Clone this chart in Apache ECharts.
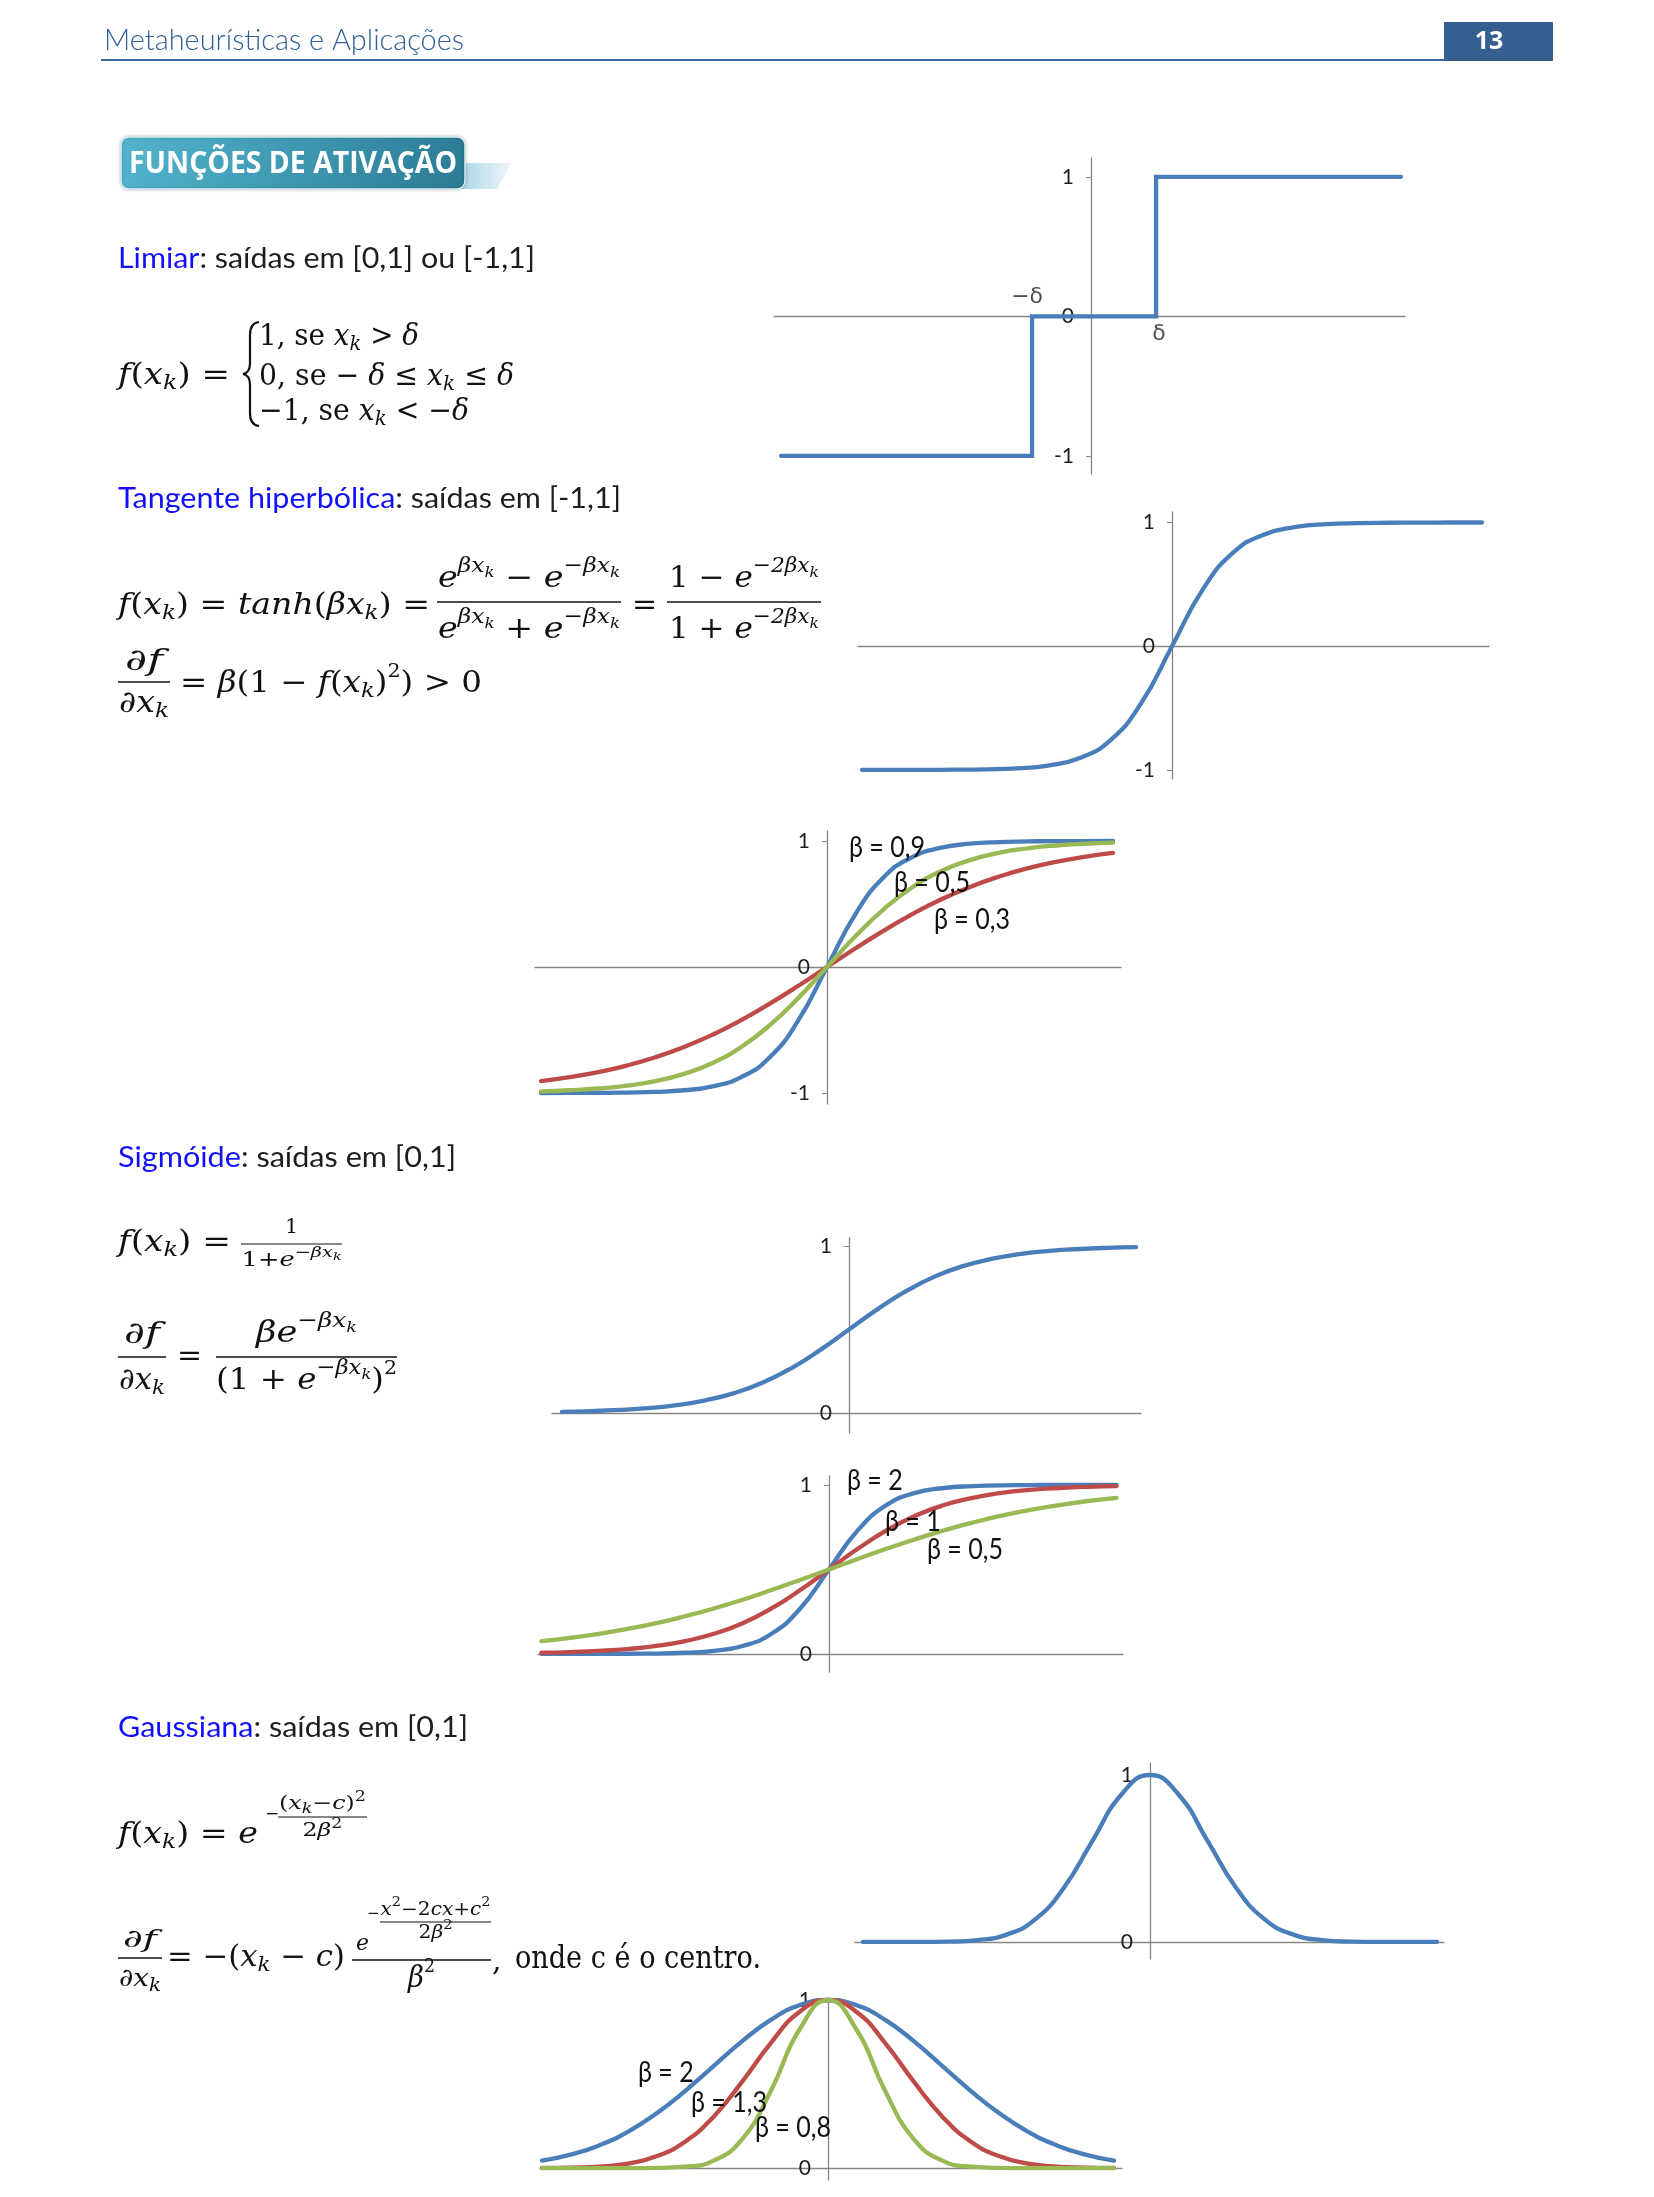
<!DOCTYPE html>
<html><head><meta charset="utf-8">
<script src="https://cdn.jsdelivr.net/npm/echarts@6/dist/echarts.min.js"></script>
<style>html,body{margin:0;padding:0;background:#fff}#c{width:1654px;height:2197px}</style>
</head><body><div id="c"></div>
<script>
// ---------------- DATA ----------------
const xs = [-5,-4.5,-4,-3.5,-3,-2.5,-2,-1.5,-1,-0.5,0,0.5,1,1.5,2,2.5,3,3.5,4,4.5,5];

const limiarX = [-5,-0.95,-0.95,1.05,1.05,5];
const limiarY = [-1,-1,0,0,1,1];
const deltaX = [-0.95, 1.05];
const deltaLabels = ['−δ', 'δ'];

const tanhY   = [-1,-1,-0.999,-0.998,-0.995,-0.987,-0.964,-0.905,-0.762,-0.462,0,0.462,0.762,0.905,0.964,0.987,0.995,0.998,0.999,1,1];
const tanhB09 = [-1,-0.999,-0.999,-0.996,-0.991,-0.978,-0.947,-0.874,-0.716,-0.422,0,0.422,0.716,0.874,0.947,0.978,0.991,0.996,0.999,0.999,1];
const tanhB05 = [-0.987,-0.978,-0.964,-0.941,-0.905,-0.848,-0.762,-0.635,-0.462,-0.245,0,0.245,0.462,0.635,0.762,0.848,0.905,0.941,0.964,0.978,0.987];
const tanhB03 = [-0.905,-0.874,-0.834,-0.782,-0.716,-0.635,-0.537,-0.422,-0.291,-0.149,0,0.149,0.291,0.422,0.537,0.635,0.716,0.782,0.834,0.874,0.905];

const sigY   = [0.007,0.011,0.018,0.029,0.047,0.076,0.119,0.182,0.269,0.378,0.5,0.622,0.731,0.818,0.881,0.924,0.953,0.971,0.982,0.989,0.993];
const sigB2  = [0,0,0,0.001,0.002,0.007,0.018,0.047,0.119,0.269,0.5,0.731,0.881,0.953,0.982,0.993,0.998,0.999,1,1,1];
const sigB1  = [0.007,0.011,0.018,0.029,0.047,0.076,0.119,0.182,0.269,0.378,0.5,0.622,0.731,0.818,0.881,0.924,0.953,0.971,0.982,0.989,0.993];
const sigB05 = [0.076,0.095,0.119,0.148,0.182,0.223,0.269,0.321,0.378,0.438,0.5,0.562,0.622,0.679,0.731,0.777,0.818,0.852,0.881,0.905,0.924];

const gaussY   = [0,0,0,0.002,0.011,0.044,0.135,0.325,0.607,0.882,1,0.882,0.607,0.325,0.135,0.044,0.011,0.002,0,0,0];
const gaussB2  = [0.044,0.080,0.135,0.216,0.325,0.458,0.607,0.755,0.882,0.969,1,0.969,0.882,0.755,0.607,0.458,0.325,0.216,0.135,0.080,0.044];
const gaussB13 = [0.001,0.003,0.009,0.027,0.070,0.157,0.306,0.514,0.744,0.929,1,0.929,0.744,0.514,0.306,0.157,0.070,0.027,0.009,0.003,0.001];
const gaussB08 = [0,0,0,0,0.001,0.008,0.044,0.172,0.458,0.823,1,0.823,0.458,0.172,0.044,0.008,0.001,0,0,0,0];

const ticksSym = [-1, 0, 1];
const ticksUnit = [0, 1];

const tanhBetaLabels  = ['β = 0,9', 'β = 0,5', 'β = 0,3'];
const sigBetaLabels   = ['β = 2', 'β = 1', 'β = 0,5'];
const gaussBetaLabels = ['β = 2', 'β = 1,3', 'β = 0,8'];

// ---------------- STYLE / LAYOUT ----------------
const C_BLUE = '#4a7ebb', C_RED = '#be4b48', C_GREEN = '#98b954';
const AXIS = '#868686', INK = '#111111', TEXT = '#1e1e1e', KEY = '#1010ff';
const MATH = "'DejaVu Serif', 'Liberation Serif', serif";
const BODY = "Lato, 'Open Sans', sans-serif";
const SANS = "'Open Sans', 'Noto Sans', sans-serif";

const cv = document.createElement('canvas').getContext('2d');
function meas(t, size, it, fam, w) {
  cv.font = (it ? 'italic ' : 'normal ') + (w || 'normal') + ' ' + size + 'px ' + (fam || MATH);
  return cv.measureText(t).width;
}
const els = [];
function T(x, y, text, size, o) {
  o = o || {};
  els.push({type: 'text', x: x, y: y, scaleX: o.sx || 1, silent: true, z: 10,
    style: {text: text, fill: o.fill || INK, fontSize: size, fontFamily: o.fam || MATH,
      fontStyle: o.it ? 'italic' : 'normal', fontWeight: o.w || 'normal',
      align: o.align || 'left', textAlign: o.align || 'left',
      verticalAlign: 'middle', textVerticalAlign: 'middle'}});
}
function L(x1, y1, x2, y2, lw, col) {
  els.push({type: 'line', silent: true, z: 10, shape: {x1: x1, y1: y1, x2: x2, y2: y2},
    style: {stroke: col || INK, lineWidth: lw || 1.5}});
}
function Q(x1, y1, cx, cy, x2, y2, lw) {
  els.push({type: 'bezierCurve', silent: true, z: 10, shape: {x1: x1, y1: y1, x2: x2, y2: y2, cpx1: cx, cpy1: cy},
    style: {stroke: INK, lineWidth: lw, fill: null}});
}
function seqW(items, base) {
  let w = 0;
  items.forEach(it => { w += meas(it[0], it[2] || base, it[1]); });
  return w;
}
function seq(x, y, items, base, target) {
  const sx = target ? target / seqW(items, base) : 1;
  items.forEach(it => {
    const sz = it[2] || base, dy = it[3] || 0;
    T(x, y + dy, it[0], sz, {it: it[1], sx: sx});
    x += meas(it[0], sz, it[1]) * sx;
  });
  return x;
}
function frac(xl, xr, yBar, num, numY, numW, den, denY, denW, base, lw) {
  L(xl, yBar, xr, yBar, lw || 1.5);
  const c = (xl + xr) / 2;
  const nw = numW || seqW(num, base), dw = denW || seqW(den, base);
  seq(c - nw / 2, numY, num, base, nw);
  seq(c - dw / 2, denY, den, base, dw);
}
function textFit(x, y, text, size, target, o) {
  o = Object.assign({}, o || {});
  o.sx = target / meas(text, size, o.it, o.fam, o.w);
  T(x, y, text, size, o);
}
function heading(x, y, key, rest, targetW) {
  const s = 29, sx = targetW / meas(key + rest, s, false, BODY, 'normal');
  T(x, y, key, s, {fam: BODY, fill: KEY, sx: sx});
  T(x + meas(key, s, false, BODY, 'normal') * sx, y, rest, s, {fam: BODY, fill: TEXT, sx: sx});
}

// ---------- page header ----------
textFit(104, 41, 'Metaheurísticas e Aplicações', 29, 360, {fam: BODY, w: 300, fill: '#2f5e98'});
L(101, 60, 1444, 60, 2, '#3d679e');
els.push({type: 'rect', silent: true, z: 5, shape: {x: 1444, y: 22, width: 109, height: 39}, style: {fill: '#365f91'}});
T(1489, 42, '13', 25, {fam: SANS, w: 'bold', fill: '#ffffff', align: 'center'});

// ---------- section title box ----------
els.push({type: 'polygon', silent: true, z: 4, shape: {points: [[460, 163], [511, 163], [497, 189], [460, 189]]},
  style: {fill: new echarts.graphic.LinearGradient(0, 0, 1, 0, [{offset: 0, color: '#a9d3e3'}, {offset: 1, color: '#eef7fa'}])}});
els.push({type: 'rect', silent: true, z: 5, shape: {x: 121, y: 137, width: 344, height: 52, r: 8},
  style: {fill: new echarts.graphic.LinearGradient(0, 0, 1, 1, [{offset: 0, color: '#52b4cd'}, {offset: 1, color: '#2b7b94'}]),
    stroke: '#d8eef4', lineWidth: 1.5, shadowBlur: 3, shadowColor: 'rgba(0,0,0,0.25)'}});
textFit(129, 164, 'FUNÇÕES DE ATIVAÇÃO', 30, 328, {fam: SANS, w: 'bold', fill: '#ffffff'});

// ---------- Limiar ----------
heading(118, 259, 'Limiar', ': saídas em [0,1] ou [-1,1]', 417);
const B = 30, K = ['k', 1, 21, 8];
seq(118, 376, [['f', 1], ['(', 0], ['x', 1], K, [')', 0], [' =', 0]], B, 112);
Q(259, 322, 250, 323, 250, 335, 2.2);
L(250, 335, 250, 363, 2.2);
Q(250, 363, 250, 373, 243, 374, 2.2);
Q(243, 374, 250, 375, 250, 385, 2.2);
L(250, 385, 250, 413, 2.2);
Q(250, 413, 250, 425, 259, 426, 2.2);
seq(259, 337, [['1, se ', 0], ['x', 1], K, [' > ', 0], ['δ', 1]], B, 160);
seq(259, 377, [['0, se − ', 0], ['δ', 1], [' ≤ ', 0], ['x', 1], K, [' ≤ ', 0], ['δ', 1]], B, 255);
seq(259, 412, [['−1, se ', 0], ['x', 1], K, [' < −', 0], ['δ', 1]], B, 210);

// ---------- Tangente hiperbólica ----------
heading(118, 499, 'Tangente hiperbólica', ': saídas em [-1,1]', 503);
seq(118, 606, [['f', 1], ['(', 0], ['x', 1], K, [')', 0], [' = ', 0], ['tanh', 1], ['(', 0], ['β', 1], ['x', 1], K, [')', 0], [' =', 0]], B, 312);
const SUP = (t) => [t, 1, 21, -12], SK = ['k', 1, 15, -6];
frac(437, 621, 602,
  [['e', 1], SUP('βx'), SK, [' − ', 0], ['e', 1], SUP('−βx'), SK], 579, 182,
  [['e', 1], SUP('βx'), SK, [' + ', 0], ['e', 1], SUP('−βx'), SK], 630, 182, B);
T(632, 606, '=', B);
frac(667, 821, 602,
  [['1 − ', 0], ['e', 1], SUP('−2βx'), SK], 579, 150,
  [['1 + ', 0], ['e', 1], SUP('−2βx'), SK], 630, 150, B);
frac(118, 170, 682, [['∂', 0], ['f', 1]], 662, 38, [['∂', 0], ['x', 1], K], 704, 50, B);
seq(180, 684, [['= ', 0], ['β', 1], ['(1 − ', 0], ['f', 1], ['(', 0], ['x', 1], K, [')', 0], ['2', 0, 19, -12], [') > 0', 0]], B, 302);

// ---------- Sigmóide ----------
heading(118, 1158, 'Sigmóide', ': saídas em [0,1]', 338);
seq(118, 1243, [['f', 1], ['(', 0], ['x', 1], K, [')', 0], [' =', 0]], B, 113);
frac(241, 342, 1244, [['1', 0, 20]], 1228, 0,
  [['1+', 0, 20], ['e', 1, 20], ['−βx', 1, 15, -8], ['k', 1, 11, -4]], 1261, 100, 20, 1.2);
frac(118, 166, 1357, [['∂', 0], ['f', 1]], 1335, 36, [['∂', 0], ['x', 1], K], 1381, 46, B);
T(177, 1357, '=', B);
frac(216, 397, 1357,
  [['β', 1], ['e', 1], SUP('−βx'), SK], 1334, 101,
  [['(1 + ', 0], ['e', 1], SUP('−βx'), SK, [')', 0], ['2', 0, 19, -12]], 1381, 181, B);

// ---------- Gaussiana ----------
heading(118, 1728, 'Gaussiana', ': saídas em [0,1]', 350);
seq(118, 1835, [['f', 1], ['(', 0], ['x', 1], K, [')', 0], [' = ', 0], ['e', 1]], B, 140);
T(265, 1815, '−', 17);
frac(278, 367, 1817,
  [['(', 0, 19], ['x', 1, 19], ['k', 1, 14, 5], ['−', 0, 19], ['c', 1, 19], [')', 0, 19], ['2', 0, 14, -7]], 1804, 87,
  [['2', 0, 19], ['β', 1, 19], ['2', 0, 14, -7]], 1831, 40, 19, 1);
frac(118, 162, 1958, [['∂', 0, 25], ['f', 1, 25]], 1940, 34, [['∂', 0, 25], ['x', 1, 25], ['k', 1, 18, 7]], 1979, 42, 25);
seq(167, 1958, [['= −(', 0], ['x', 1], K, [' − ', 0], ['c', 1], [')', 0]], B, 178);
L(352, 1960, 491, 1960, 1.5);
T(356, 1944, 'e', 22, {it: 1});
T(367, 1914, '−', 15);
frac(380, 491, 1922,
  [['x', 1, 18], ['2', 0, 13, -7], ['−2', 0, 18], ['c', 1, 18], ['x', 1, 18], ['+', 0, 18], ['c', 1, 18], ['2', 0, 13, -7]], 1910, 110,
  [['2', 0, 18], ['β', 1, 18], ['2', 0, 13, -7]], 1933, 34, 18, 1);
seq(408, 1979, [['β', 1], ['2', 0, 19, -12]], B, 27);
T(492, 1962, ',', B);
textFit(515, 1960, 'onde c é o centro.', 31, 246, {});

// ---------- beta annotation labels ----------
const bsx = 76 / meas('β = 0,9', 29, false, BODY, 'normal');
function BL(x, y, t) { T(x, y, t, 29, {fam: BODY, fill: '#111', sx: bsx}); }
BL(849, 848, tanhBetaLabels[0]); BL(894, 883, tanhBetaLabels[1]); BL(934, 920, tanhBetaLabels[2]);
BL(847, 1481, sigBetaLabels[0]); BL(885, 1522, sigBetaLabels[1]); BL(927, 1550, sigBetaLabels[2]);
BL(638, 2073, gaussBetaLabels[0]); BL(691, 2103, gaussBetaLabels[1]); BL(755, 2128, gaussBetaLabels[2]);

// ---------- charts ----------
const G = [
  {left: 774, top: 158, width: 631, height: 316, xr: [-5.113, 5.065], yr: [-1.13, 1.135], t: ticksSym},
  {left: 858, top: 512, width: 631, height: 267, xr: [-5.065, 5.113], yr: [-1.073, 1.085], t: ticksSym},
  {left: 535, top: 831, width: 586, height: 273, xr: [-5.105, 5.14], yr: [-1.087, 1.079], t: ticksSym},
  {left: 552, top: 1238, width: 589, height: 195, xr: [-5.174, 5.087], yr: [-0.12, 1.048], t: ticksUnit},
  {left: 538, top: 1476, width: 585, height: 196, xr: [-5.06, 5.113], yr: [-0.107, 1.053], t: ticksUnit},
  {left: 855, top: 1763, width: 589, height: 196, xr: [-5.139, 5.122], yr: [-0.102, 1.072], t: ticksUnit},
  {left: 540, top: 1998, width: 582, height: 182, xr: [-5.035, 5.14], yr: [-0.071, 1.012], t: ticksUnit}
];
const grid = G.map(g => ({left: g.left, top: g.top, width: g.width, height: g.height, containLabel: false, outerBoundsMode: 'none'}));
const xAxis = G.map((g, i) => ({type: 'value', gridIndex: i, min: g.xr[0], max: g.xr[1],
  axisLine: {show: true, onZero: true, lineStyle: {color: AXIS, width: 1.3}},
  axisTick: {show: false}, axisLabel: {show: false}, splitLine: {show: false}}));
const yAxis = G.map((g, i) => ({type: 'value', gridIndex: i, min: g.yr[0], max: g.yr[1], position: 'left',
  offset: -g.width * (-g.xr[0]) / (g.xr[1] - g.xr[0]),
  axisLine: {show: true, onZero: false, lineStyle: {color: AXIS, width: 1.3}},
  axisTick: {show: true, length: 5, customValues: g.t, lineStyle: {color: AXIS}},
  axisLabel: {show: true, customValues: g.t, margin: 17, fontSize: 21, color: '#1e1e1e', fontFamily: BODY},
  splitLine: {show: false}}));

const pairs = (X, Y) => X.map((x, i) => [x, Y[i]]);
function curve(i, Y, col, X) {
  return {type: 'line', xAxisIndex: i, yAxisIndex: i, data: pairs(X || xs, Y), showSymbol: false, symbol: 'none',
    smooth: X ? false : 0.5, silent: true, animation: false,
    lineStyle: {width: 4.3, color: col, join: 'miter', cap: 'round'}, z: 3};
}
const series = [
  curve(0, limiarY, C_BLUE, limiarX),
  {type: 'scatter', xAxisIndex: 0, yAxisIndex: 0, symbolSize: 0, silent: true, animation: false, z: 4,
    data: [
      {value: [deltaX[0], 0], label: {show: true, position: 'top', distance: 8, offset: [-5, 0], formatter: deltaLabels[0]}},
      {value: [deltaX[1], 0], label: {show: true, position: 'bottom', distance: 7, offset: [3, 0], formatter: deltaLabels[1]}}
    ],
    label: {fontSize: 22, color: '#222', fontFamily: "'DejaVu Sans', sans-serif"}},
  curve(1, tanhY, C_BLUE),
  curve(2, tanhB09, C_BLUE), curve(2, tanhB03, C_RED), curve(2, tanhB05, C_GREEN),
  curve(3, sigY, C_BLUE),
  curve(4, sigB2, C_BLUE), curve(4, sigB1, C_RED), curve(4, sigB05, C_GREEN),
  curve(5, gaussY, C_BLUE),
  curve(6, gaussB2, C_BLUE), curve(6, gaussB13, C_RED), curve(6, gaussB08, C_GREEN)
];

const chart = echarts.init(document.getElementById('c'), null, {renderer: 'canvas'});
chart.setOption({
  backgroundColor: '#ffffff', animation: false,
  grid: grid, xAxis: xAxis, yAxis: yAxis, series: series,
  graphic: {elements: els}
});
</script></body></html>
